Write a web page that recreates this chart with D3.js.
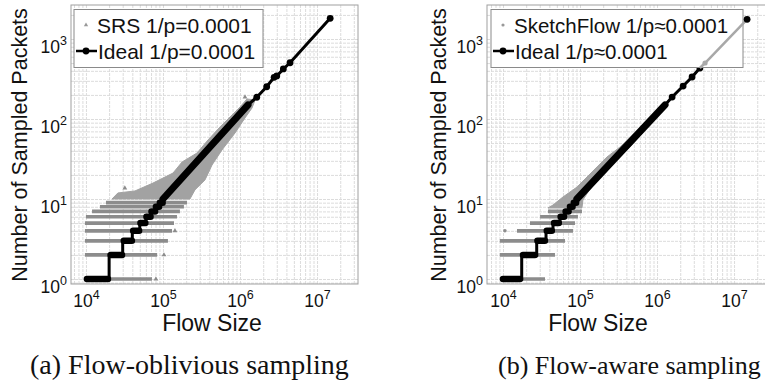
<!DOCTYPE html>
<html lang="en">
<head>
<meta charset="utf-8">
<title>Sampled packets vs flow size</title>
<script src="https://cdnjs.cloudflare.com/ajax/libs/d3/7.8.5/d3.min.js"></script>
<style>
body { margin: 0; background: #fff; }
svg text { font-family: "Liberation Sans", Arial, sans-serif; fill: #111; }
.caption { font-family: "Liberation Serif", serif; }
.grid line { stroke: #dcdcdc; stroke-width: 1; stroke-dasharray: 3,1; }
.grid path { display: none; }
</style>
</head>
<body>
<script>

// axis decades shown as 10^n
var xTickExp = [4, 5, 6, 7];
var yTickExp = [0, 1, 2, 3];

// ---- (a) SRS, flow-oblivious ----
// rows of samples at small counts: level, first and last flow size
var srsLevel = [1, 2, 3, 4, 5, 6, 7, 8, 9];
var srsRowStart = [9.7e3, 9.7e3, 9.7e3, 9.7e3, 9.7e3, 1.0e4, 1.2e4, 1.52e4, 1.82e4];
var srsRowEnd = [7.2e4, 8.4e4, 1.16e5, 1.31e5, 1.39e5, 1.52e5, 1.66e5, 1.87e5, 2.05e5];
// cloud above 10 packets: upper-left edge, then lower-right edge
var srsUpperSize = [2.18e4, 2.6e4, 4.33e4, 7.41e4, 1.35e5, 1.77e5, 2.77e5, 3.84e5, 5.49e5, 7.42e5, 1.0e6, 1.23e6];
var srsUpperCount = [10, 11.9, 12.6, 15.8, 21.1, 29, 37.6, 54.6, 79.4, 106, 141, 178];
var srsLowerSize = [1.57e6, 1.43e6, 1.16e6, 8.61e5, 5.83e5, 4.33e5, 3.51e5, 2.6e5, 2.24e5];
var srsLowerCount = [173, 137, 103, 66.8, 41, 26.6, 17.3, 13, 10];
var srsOutSize = [8.1e4, 1.03e5, 1.43e5, 3.2e4, 1.16e6];
var srsOutCount = [1, 2, 4, 13.7, 188];

// ---- (a) ideal ----
var idealStartA = 1.03e4;
var idealStepA = [2e4, 3e4, 4e4, 5e4, 6e4, 7e4, 8e4, 9e4, 1e5];
var idealRunStartA = [1.03e4, 2.1e4, 3.1e4, 4.1e4, 5.1e4, 6.1e4, 7.1e4, 8.1e4, 9.1e4];
var idealRunEndA = [1.93e4, 2.94e4, 3.95e4, 4.9e4, 5.9e4, 6.9e4, 7.9e4, 8.9e4, 9.9e4];
var idealBandSizeA = [1e5, 1.27e6];
var idealBandCountA = [10, 150];
var idealMarkSizeA = [1.65e6, 2.22e6, 2.77e6, 3.0e6, 3.65e6, 4.46e6, 1.48e7];
var idealMarkCountA = [187, 253, 332, 345, 422, 505, 1815];

// ---- (b) SketchFlow, flow-aware ----
var skLevel = [1, 2, 3, 4, 5, 6, 7];
var skRowStart = [9.1e3, 9.1e3, 9.1e3, 1.52e4, 2.24e4, 3.03e4, 3.84e4];
var skRowEnd = [3.51e4, 4.73e4, 6.38e4, 8.11e4, 8.6e4, 9.4e4, 1.06e5];
var skUpperSize = [3.84e4, 4.46e4, 6.01e4, 9.14e4, 1.66e5, 2.24e5, 3.31e5, 6.01e5, 9.42e5];
var skUpperCount = [7.72, 8.41, 10.6, 14.1, 25.1, 33.5, 44.7, 77.2, 119];
var skLowerSize = [1.09e6, 6.98e5, 4.46e5, 2.61e5, 1.66e5, 1.27e5, 1.09e5, 1.06e5];
var skLowerCount = [119, 72.9, 44.7, 26.6, 17.3, 12.2, 9.7, 7.72];
var skOutSize = [1.06e4];
var skOutCount = [4];
var skTailSize = [3.6e6, 4.2e6, 1.476e7];
var skTailCount = [434, 501, 1763];

// ---- (b) ideal ----
var idealStartB = 1.0e4;
var idealStepB = [1.75e4, 2.74e4, 3.62e4, 4.46e4, 5.5e4, 6.4e4, 7.3e4, 8.2e4, 9.1e4];
var idealRunStartB = [1.0e4, 1.82e4, 2.8e4, 3.7e4, 4.6e4, 5.6e4, 6.5e4, 7.4e4, 8.3e4];
var idealRunEndB = [1.66e4, 2.6e4, 3.5e4, 4.3e4, 5.3e4, 6.2e4, 7.1e4, 8.0e4, 8.9e4];
var idealBandSizeB = [9.1e4, 1.27e6];
var idealBandCountB = [10, 150];
var idealMarkSizeB = [1.57e6, 2.18e6, 2.85e6, 3.6e6];
var idealMarkCountB = [188, 258, 335, 434];
var idealEndB = [1.476e7, 1763];

var W = 765, H = 388;
var plotTop = 5, plotBottom = 284;
var yDomain = [0.866, 2660];
var grey = "#8c8c8c";

var svg = d3.select("body").append("svg")
    .attr("width", W)
    .attr("height", H);

function zip(a, b) {
  return a.map(function(v, i) { return [v, b[i]]; });
}

function drawPanel(o) {
  var x = d3.scaleLog().domain(o.xDomain).range([o.left, o.right]);
  var y = d3.scaleLog().domain(yDomain).range([plotBottom, plotTop]);
  var g = svg.append("g");

  svg.append("clipPath").attr("id", "clip" + o.id)
    .append("rect")
      .attr("x", o.left).attr("y", plotTop)
      .attr("width", o.right - o.left).attr("height", plotBottom - plotTop);

  // grid, major and minor
  g.append("g").attr("class", "grid")
      .attr("transform", "translate(0," + plotBottom + ")")
      .call(d3.axisBottom(x).tickValues(x.ticks()).tickSize(-(plotBottom - plotTop)).tickFormat(""));
  g.append("g").attr("class", "grid")
      .attr("transform", "translate(" + o.left + ",0)")
      .call(d3.axisLeft(y).tickValues(y.ticks()).tickSize(-(o.right - o.left)).tickFormat(""));

  var data = g.append("g").attr("clip-path", "url(#clip" + o.id + ")");
  var line = d3.line().x(function(d) { return x(d[0]); }).y(function(d) { return y(d[1]); });

  // sampled rows
  data.selectAll(".row").data(o.rowLevel).enter().append("line")
      .attr("x1", function(d, i) { return x(o.rowStart[i]); })
      .attr("x2", function(d, i) { return x(o.rowEnd[i]); })
      .attr("y1", function(d) { return y(d); })
      .attr("y2", function(d) { return y(d); })
      .attr("stroke", grey)
      .attr("stroke-width", 3.6);

  // sampled cloud
  var cloud = zip(o.upSize, o.upCount).concat(zip(o.lowSize, o.lowCount));
  data.append("path")
      .attr("d", line(cloud) + "Z")
      .attr("fill", "#a2a2a2")
      .attr("stroke", "#a2a2a2")
      .attr("stroke-width", 1)
      .attr("stroke-linejoin", "round");

  data.selectAll(".out").data(zip(o.outSize, o.outCount)).enter().append("path")
      .attr("transform", function(d) { return "translate(" + x(d[0]) + "," + y(d[1]) + ")"; })
      .attr("d", d3.symbol().type(o.sym).size(10))
      .attr("fill", grey);

  // ideal curve
  var pts = [[o.idealStart, 1]];
  o.idealStep.forEach(function(s, i) {
    pts.push([s, i + 1]);
    pts.push([s, i + 2]);
  });
  pts = pts.concat(zip(o.bandSize, o.bandCount)).concat(zip(o.markSize, o.markCount));
  data.append("path")
      .attr("d", line(pts))
      .attr("fill", "none")
      .attr("stroke", "#000")
      .attr("stroke-width", 3);

  // dense runs of ideal markers
  data.selectAll(".run").data(o.runStart).enter().append("line")
      .attr("x1", function(d) { return x(d); })
      .attr("x2", function(d, i) { return x(o.runEnd[i]); })
      .attr("y1", function(d, i) { return y(i + 1); })
      .attr("y2", function(d, i) { return y(i + 1); })
      .attr("stroke", "#000")
      .attr("stroke-width", 6.5)
      .attr("stroke-linecap", "round");
  data.append("path")
      .attr("d", line(zip(o.bandSize, o.bandCount)))
      .attr("stroke", "#000")
      .attr("stroke-width", 7)
      .attr("stroke-linecap", "round");

  data.selectAll(".mk").data(zip(o.markSize, o.markCount)).enter().append("circle")
      .attr("cx", function(d) { return x(d[0]); })
      .attr("cy", function(d) { return y(d[1]); })
      .attr("r", 3.4)
      .attr("fill", "#000");

  // frame
  g.append("rect")
      .attr("x", o.left).attr("y", plotTop)
      .attr("width", o.right - o.left).attr("height", plotBottom - plotTop)
      .attr("fill", "none")
      .attr("stroke", "#a0a0a0");

  // tick labels 10^n
  var xl = g.append("g")
      .attr("transform", "translate(0," + plotBottom + ")")
      .call(d3.axisBottom(x).tickValues(xTickExp.map(function(e) { return Math.pow(10, e); })).tickSize(0).tickPadding(11));
  xl.select(".domain").remove();
  xl.selectAll("text").each(function(d) {
    var t = d3.select(this).text("").attr("font-size", 17.5).attr("fill", "#111");
    t.append("tspan").text("10");
    t.append("tspan").attr("dy", -8).attr("font-size", 12.5).text(Math.round(Math.log10(d)));
  });

  var yl = g.append("g")
      .attr("transform", "translate(" + o.left + ",0)")
      .call(d3.axisLeft(y).tickValues(yTickExp.map(function(e) { return Math.pow(10, e); })).tickSize(0).tickPadding(4));
  yl.select(".domain").remove();
  yl.selectAll("text").each(function(d) {
    var t = d3.select(this).text("").attr("font-size", 17.5).attr("fill", "#111").attr("dy", "0.75em");
    t.append("tspan").text("10");
    t.append("tspan").attr("dy", -8).attr("font-size", 12.5).text(Math.round(Math.log10(d)));
  });

  // axis titles
  svg.append("text")
      .attr("x", o.xTitleX).attr("y", 331)
      .attr("text-anchor", "middle")
      .attr("font-size", 23)
      .text("Flow Size");
  svg.append("text")
      .attr("transform", "translate(" + o.yTitleX + ",145) rotate(-90)")
      .attr("text-anchor", "middle")
      .attr("dy", "0.35em")
      .attr("font-size", 21.5)
      .text("Number of Sampled Packets");

  // legend
  var lg = svg.append("g");
  lg.append("rect")
      .attr("x", o.legend[0]).attr("y", 9.5)
      .attr("width", o.legend[1]).attr("height", 58)
      .attr("fill", "#fff")
      .attr("stroke", "#8a8a8a");
  lg.append("path")
      .attr("transform", "translate(" + (o.legend[0] + 12) + ",25)")
      .attr("d", d3.symbol().type(o.sym).size(8))
      .attr("fill", "#999");
  lg.append("text").attr("x", o.legend[0] + 23).attr("y", 32.5).attr("font-size", o.legendFont).text(o.label1);
  lg.append("line")
      .attr("x1", o.legend[0] + 2).attr("x2", o.legend[0] + 23)
      .attr("y1", 51).attr("y2", 51)
      .attr("stroke", "#000").attr("stroke-width", 2.5);
  lg.append("circle").attr("cx", o.legend[0] + 12).attr("cy", 51).attr("r", 3.4).attr("fill", "#000");
  lg.append("text").attr("x", o.legend[0] + 24).attr("y", 58.5).attr("font-size", o.legendFont).text(o.label2);

  if (o.tailSize) {
    // this series runs over the legend box in the original
    svg.append("path")
        .attr("clip-path", "url(#clip" + o.id + ")")
        .attr("d", line(zip(o.tailSize, o.tailCount)))
        .attr("fill", "none")
        .attr("stroke", "#a8a8a8")
        .attr("stroke-width", 2.5);
    svg.selectAll(".tm").data(zip(o.tailSize, o.tailCount).slice(1, 2)).enter().append("circle")
        .attr("cx", function(d) { return x(d[0]); })
        .attr("cy", function(d) { return y(d[1]); })
        .attr("r", 2.6)
        .attr("fill", "#a8a8a8");
    svg.append("circle")
        .attr("cx", x(o.idealEnd[0])).attr("cy", y(o.idealEnd[1]))
        .attr("r", 3.4).attr("fill", "#000");
  }

  // caption
  svg.append("text")
      .attr("class", "caption")
      .attr("x", o.capX).attr("y", 374)
      .attr("font-size", o.capFont)
      .text(o.caption);
}

drawPanel({
  id: "a", xDomain: [6.4e3, 3.4e7], left: 71, right: 358,
  rowLevel: srsLevel, rowStart: srsRowStart, rowEnd: srsRowEnd,
  upSize: srsUpperSize, upCount: srsUpperCount, lowSize: srsLowerSize, lowCount: srsLowerCount,
  outSize: srsOutSize, outCount: srsOutCount, sym: d3.symbolTriangle,
  idealStart: idealStartA, idealStep: idealStepA, runStart: idealRunStartA, runEnd: idealRunEndA,
  bandSize: idealBandSizeA, bandCount: idealBandCountA, markSize: idealMarkSizeA, markCount: idealMarkCountA,
  xTitleX: 212, yTitleX: 19, legend: [74, 189], legendFont: 21,
  label1: "SRS 1/p=0.0001", label2: "Ideal 1/p=0.0001",
  capX: 30, capFont: 28, caption: "(a) Flow-oblivious sampling"
});

drawPanel({
  id: "b", xDomain: [6.2e3, 3.3e7], left: 487, right: 774,
  rowLevel: skLevel, rowStart: skRowStart, rowEnd: skRowEnd,
  upSize: skUpperSize, upCount: skUpperCount, lowSize: skLowerSize, lowCount: skLowerCount,
  outSize: skOutSize, outCount: skOutCount, sym: d3.symbolCircle,
  idealStart: idealStartB, idealStep: idealStepB, runStart: idealRunStartB, runEnd: idealRunEndB,
  bandSize: idealBandSizeB, bandCount: idealBandCountB, markSize: idealMarkSizeB, markCount: idealMarkCountB,
  idealEnd: idealEndB, tailSize: skTailSize, tailCount: skTailCount,
  xTitleX: 598, yTitleX: 438, legend: [491, 252], legendFont: 20.5,
  label1: "SketchFlow 1/p\u22480.0001", label2: "Ideal 1/p\u22480.0001",
  capX: 498, capFont: 26, caption: "(b) Flow-aware sampling"
});

</script>
</body>
</html>
